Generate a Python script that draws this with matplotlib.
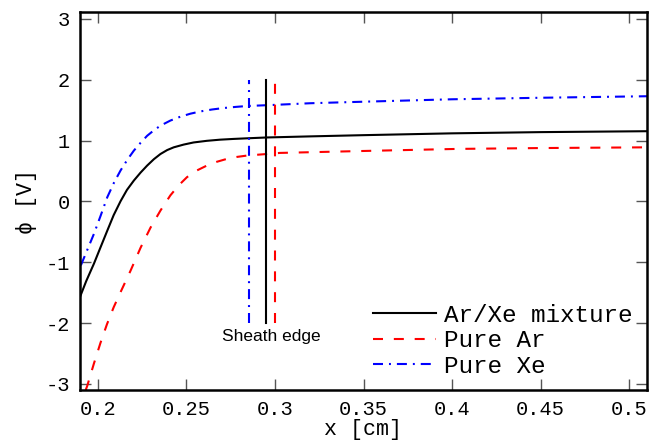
import matplotlib
matplotlib.use("Agg")
import matplotlib.pyplot as plt

plt.rcParams['axes.unicode_minus'] = False

# ---- data ----
x_mix = [0.19, 0.1935, 0.1979, 0.2015, 0.2054, 0.209, 0.2129, 0.2165, 0.2204, 0.2242,
         0.2279, 0.2317, 0.2354, 0.2392, 0.2429, 0.2485, 0.2541, 0.2616, 0.2691, 0.2766,
         0.2841, 0.2953, 0.32, 0.35, 0.40, 0.45, 0.51]
y_mix = [-1.57, -1.31, -1.02, -0.76, -0.48, -0.225, 0.005, 0.19, 0.344, 0.475,
         0.59, 0.695, 0.78, 0.845, 0.89, 0.935, 0.97, 0.997, 1.016, 1.028,
         1.038, 1.052, 1.07, 1.09, 1.12, 1.14, 1.155]

x_ar = [0.1932, 0.194, 0.1978, 0.2015, 0.2052, 0.209, 0.2129, 0.2185, 0.2242, 0.2298,
        0.2354, 0.241, 0.2457, 0.2504, 0.256, 0.2616, 0.2672, 0.2729, 0.2785, 0.2841,
        0.2953, 0.3028, 0.35, 0.403, 0.45, 0.51]
y_ar = [-3.10, -3.04, -2.67, -2.33, -2.02, -1.74, -1.49, -1.14, -0.76, -0.43,
        -0.15, 0.10, 0.265, 0.40, 0.51, 0.59, 0.652, 0.70, 0.732, 0.754,
        0.78, 0.798, 0.83, 0.864, 0.878, 0.89]

x_xe = [0.1905, 0.1942, 0.1979, 0.2017, 0.2054, 0.2092, 0.2129, 0.2167, 0.2204, 0.2242,
        0.2279, 0.2317, 0.2354, 0.241, 0.2466, 0.2523, 0.2579, 0.2645, 0.271, 0.2776,
        0.2841, 0.299, 0.32, 0.35, 0.40, 0.45, 0.51]
y_xe = [-1.05, -0.79, -0.53, -0.23, 0.07, 0.31, 0.51, 0.685, 0.836, 0.965,
        1.08, 1.17, 1.246, 1.33, 1.393, 1.443, 1.48, 1.512, 1.536, 1.554,
        1.569, 1.587, 1.615, 1.64, 1.68, 1.705, 1.73]

sheath_x = [0.295, 0.300, 0.2855]   # mixture, Ar, Xe
sheath_y = [-2.0, 2.0]

labels = ["Ar/Xe mixture", "Pure Ar", "Pure Xe"]
colors = ["black", "#ff0000", "#0000ff"]
xticks = [0.2, 0.25, 0.3, 0.35, 0.4, 0.45, 0.5]
xtick_labels = ["0.2", "0.25", "0.3", "0.35", "0.4", "0.45", "0.5"]
yticks = [-3, -2, -1, 0, 1, 2, 3]

lw = 1.5
styles = ["-", (0, (7.2 / lw, 7.8 / lw)), (0, (7.2 / lw, 4.3 / lw, 1.4 / lw, 4.3 / lw))]

mono = ['Liberation Mono', 'DejaVu Sans Mono', 'DejaVu Sans']

fig = plt.figure(figsize=(6.7, 4.47), dpi=100)
ax = fig.add_axes([80 / 670, 1 - 390 / 447, 567 / 670, 378 / 447])

series = [(x_mix, y_mix), (x_ar, y_ar), (x_xe, y_xe)]
for (xs, ys), lab, c, ls in zip(series, labels, colors, styles):
    ax.plot(xs, ys, color=c, lw=lw, linestyle=ls, label=lab)
for sx, c, ls in zip(sheath_x, colors, styles):
    ax.plot([sx, sx], sheath_y, color=c, lw=lw, linestyle=ls)

ax.text(0.2978, -2.1, "Sheath edge", ha='center', va='top',
        fontsize=12.5, family=['Liberation Sans', 'DejaVu Sans'])

ax.set_xlim(0.19, 0.51)
ax.set_ylim(-3.1, 3.115)
ax.set_xticks(xticks)
ax.set_xticklabels(xtick_labels)
ax.set_yticks(yticks)

ax.tick_params(direction='in', length=8, width=1.0, color='#555555',
               top=True, right=True, labelsize=14.7, pad=7)
for lab in ax.get_xticklabels() + ax.get_yticklabels():
    lab.set_family(mono)
for sp in ax.spines.values():
    sp.set_linewidth(1.8)

ax.set_xlabel("x [cm]", fontsize=15.6, family=mono, labelpad=0)
ax.set_ylabel("\u03d5 [V]", fontsize=15.6, family=mono, labelpad=6)

leg = ax.legend(loc='upper left', bbox_to_anchor=(0.517, 0.228), frameon=False,
                prop={'family': mono, 'size': 17.5}, handlelength=2.6,
                handletextpad=0.3, borderpad=0, borderaxespad=0, labelspacing=0.1)

fig.savefig("out.png", dpi=100)
